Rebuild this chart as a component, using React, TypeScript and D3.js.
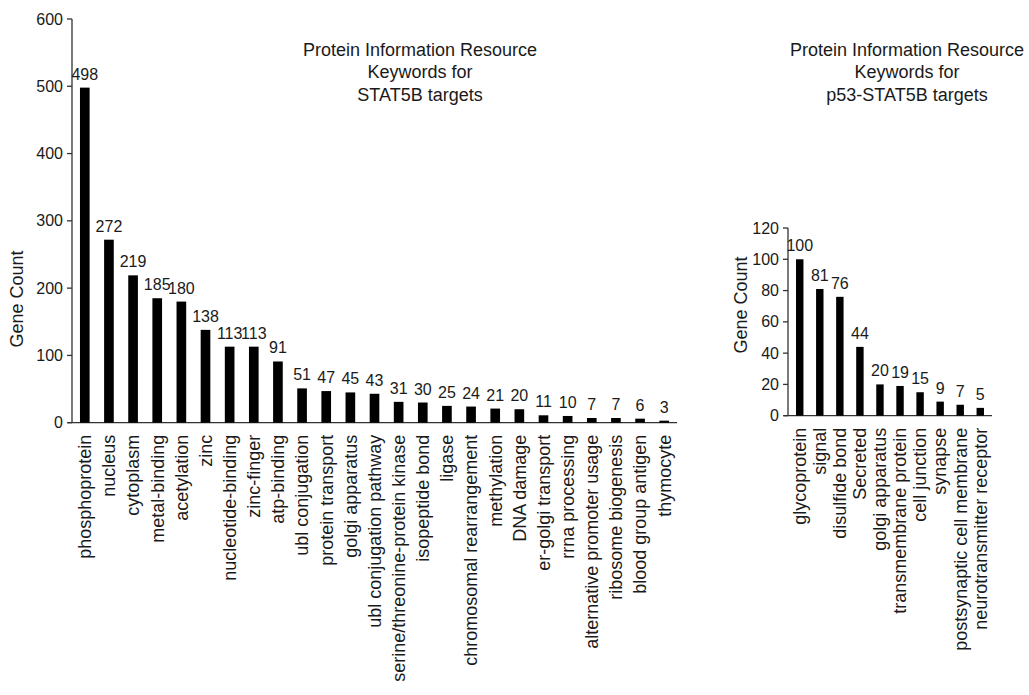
import React from "react";
import * as d3 from "d3";

const catsA = ["phosphoprotein","nucleus","cytoplasm","metal-binding","acetylation","zinc","nucleotide-binding","zinc-finger","atp-binding","ubl conjugation","protein transport","golgi apparatus","ubl conjugation pathway","serine/threonine-protein kinase","isopeptide bond","ligase","chromosomal rearrangement","methylation","DNA damage","er-golgi transport","rrna processing","alternative promoter usage","ribosome biogenesis","blood group antigen","thymocyte"];
const valsA = [498,272,219,185,180,138,113,113,91,51,47,45,43,31,30,25,24,21,20,11,10,7,7,6,3];
const ticksA = [0,100,200,300,400,500,600];
const titleA = ["Protein Information Resource","Keywords for","STAT5B targets"];

const catsB = ["glycoprotein","signal","disulfide bond","Secreted","golgi apparatus","transmembrane protein","cell junction","synapse","postsynaptic cell membrane","neurotransmitter receptor"];
const valsB = [100,81,76,44,20,19,15,9,7,5];
const ticksB = [0,20,40,60,80,100,120];
const titleB = ["Protein Information Resource","Keywords for","p53-STAT5B targets"];

const FONT = "'Liberation Sans', Arial, sans-serif";
const TEXT = "#1a1a1a";
const AXIS = "#333";

type PanelProps = {
  cats: string[]; vals: number[]; ticks: number[]; title: string[];
  x0: number; x1: number; y0: number; y1: number; yMax: number;
  pi: number; po: number; labelX: number; labelY: number; titleX: number;
};

function Panel(p: PanelProps) {
  const x = d3.scaleBand<string>().domain(p.cats).range([p.x0, p.x1]).paddingInner(p.pi).paddingOuter(p.po);
  const y = d3.scaleLinear().domain([0, p.yMax]).range([p.y0, p.y1]);
  return (
    <g fontFamily={FONT} fill={TEXT}>
      {p.title.map((t, i) => (
        <text key={i} x={p.titleX} y={56 + i * 22.3} textAnchor="middle" fontSize={18}>{t}</text>
      ))}
      <line x1={p.x0} x2={p.x0} y1={y(p.yMax)} y2={y(0)} stroke={AXIS} strokeWidth={1.3} />
      <line x1={p.x0 - 4} x2={p.x1} y1={y(0)} y2={y(0)} stroke={AXIS} strokeWidth={1.3} />
      {p.ticks.map((t) => (
        <g key={t}>
          <line x1={p.x0 - 5} x2={p.x0} y1={y(t)} y2={y(t)} stroke={AXIS} strokeWidth={1.3} />
          <text x={p.x0 - 9} y={y(t)} dy="0.35em" textAnchor="end" fontSize={16}>{t}</text>
        </g>
      ))}
      {p.cats.map((c, i) => (
        <g key={c}>
          <rect x={x(c)} y={y(p.vals[i])} width={x.bandwidth()} height={y(0) - y(p.vals[i])} fill="#000" />
          <text x={(x(c) as number) + x.bandwidth() / 2} y={y(p.vals[i]) - 8} textAnchor="middle" fontSize={16}>{p.vals[i]}</text>
          <text transform={`translate(${(x(c) as number) + x.bandwidth() / 2},${y(0) + 12}) rotate(-90)`} dy="0.35em" textAnchor="end" fontSize={18}>{c}</text>
        </g>
      ))}
      <text transform={`translate(${p.labelX},${p.labelY}) rotate(-90)`} dy="0.35em" textAnchor="middle" fontSize={18}>Gene Count</text>
    </g>
  );
}

export default function App() {
  return (
    <svg width={1029} height={695} style={{ position: "absolute", left: 0, top: 0, background: "#fff" }}>
      <rect width={1029} height={695} fill="#fff" />
      <Panel cats={catsA} vals={valsA} ticks={ticksA} title={titleA}
        x0={72} x1={677} y0={422.7} y1={19} yMax={600} pi={0.6} po={0.33}
        labelX={17} labelY={299} titleX={420} />
      <Panel cats={catsB} vals={valsB} ticks={ticksB} title={titleB}
        x0={788} x1={992} y0={415.7} y1={228} yMax={120} pi={0.63} po={0.4}
        labelX={741} labelY={305} titleX={907} />
    </svg>
  );
}
